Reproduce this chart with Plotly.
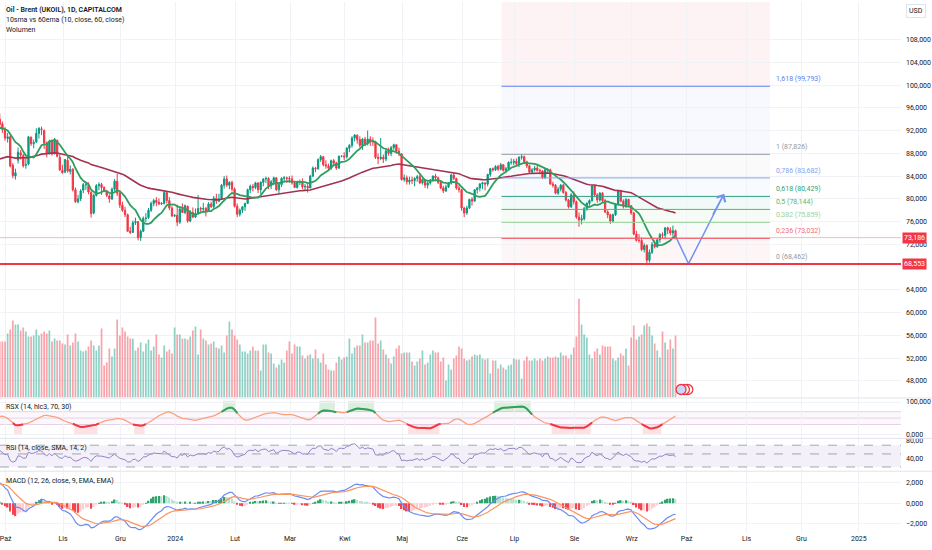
import pandas as pd
import numpy as np
import plotly.graph_objects as go

# UKOIL daily candles (CAPITALCOM), weekdays from 28.09.2023 to 25.09.2024
first_day = "2023-09-28"

opens = [
    94.0, 93.2,
    92.3, 90.6, 90.9, 85.9, 84.0, 86.8, 88.1, 87.6, 85.9, 86.1, 90.8, 89.7, 90.0, 91.5, 92.3, 92.0, 89.8, 88.0, 90.1, 87.9, 90.3, 87.3,
    85.0, 84.7, 86.8, 84.8, 85.2, 81.6, 79.5, 80.0, 81.5, 82.5, 82.4, 81.1, 77.5, 80.6, 82.3, 82.5, 82.0, 81.4, 80.5, 80.0, 81.7, 83.1,
    81.0, 78.9, 78.0, 77.2, 74.3, 74.1, 75.8, 76.0, 73.2, 74.3, 76.6, 76.7, 78.0, 79.2, 79.7, 79.4, 79.1, 79.2, 81.1, 79.7, 78.4,
    77.0, 77.1, 75.9, 78.2, 77.6, 78.7, 76.1, 77.6, 76.8, 77.4, 78.3, 78.2, 78.3, 77.9, 79.1, 78.6, 80.1, 79.6, 80.0, 82.4, 83.5, 82.4, 82.9,
    81.7, 78.7, 77.3, 78.0, 78.6, 79.2, 81.6, 82.2, 82.0, 82.8, 81.6, 82.9, 83.5, 83.6, 82.3, 83.0, 83.7, 81.6, 82.5, 83.6, 83.7,
    83.6, 83.5, 82.8, 82.0, 83.0, 83.0, 82.1, 82.2, 81.9, 84.0, 85.4, 85.3, 86.9, 87.4, 86.0, 85.8, 85.4, 86.7, 86.3, 85.4, 87.5,
    87.5, 87.4, 88.9, 89.4, 90.7, 91.2, 90.4, 89.4, 90.5, 89.7, 90.5, 90.1, 90.0, 87.3, 87.1, 87.3, 87.0, 88.4, 88.0, 89.0, 89.5, 88.4,
    87.9, 83.4, 83.7, 83.0, 83.3, 83.2, 83.6, 83.9, 82.8, 83.4, 82.4, 82.8, 83.3, 84.0, 83.7, 82.9, 81.9, 81.4, 82.1, 82.8, 84.2, 83.6, 81.9,
    81.6, 78.4, 77.5, 78.4, 79.9, 79.6, 81.6, 81.9, 82.6, 82.8, 82.6, 84.3, 85.3, 85.1, 85.7, 85.2, 86.0, 85.0, 85.3, 86.4,
    86.4, 86.6, 86.2, 87.3, 87.4, 86.5, 85.8, 84.7, 85.1, 85.4, 85.0, 84.9, 83.7, 85.1, 85.1, 82.6, 82.4, 81.0, 81.7, 82.4, 81.1, 79.8, 78.6,
    80.7, 79.5, 76.8, 76.3, 76.5, 78.3, 79.2, 79.7, 82.3, 80.7, 79.8, 81.0, 79.7, 77.7, 77.2, 76.1, 77.2, 79.0, 81.4, 79.6, 78.7, 79.9,
    78.8, 77.5, 73.8, 72.7, 72.7, 71.1, 71.8, 69.2, 70.6, 72.0, 71.6, 72.8, 73.7, 73.6, 74.9, 74.5, 74.0, 74.4,
]
highs = [
    95.0, 93.6,
    92.6, 91.6, 91.3, 86.3, 85.3, 89.0, 88.6, 87.9, 87.2, 91.0, 91.0, 90.4, 92.4, 92.6, 92.7, 92.2, 90.1, 90.4, 90.3, 90.7, 90.4, 88.0,
    86.0, 87.0, 87.4, 85.9, 85.4, 82.0, 80.7, 81.7, 82.8, 83.0, 82.9, 81.4, 80.9, 82.6, 82.9, 82.8, 82.2, 81.6, 80.8, 82.0, 83.5, 84.4,
    81.5, 79.5, 78.6, 77.4, 75.1, 76.2, 76.7, 76.1, 74.6, 76.9, 77.5, 78.4, 79.5, 80.0, 80.3, 80.1, 79.4, 81.5, 81.3, 80.3, 78.7,
    77.3, 79.0, 78.5, 79.2, 79.0, 78.8, 78.0, 78.5, 78.3, 80.7, 78.6, 79.3, 78.6, 79.4, 79.5, 80.5, 80.9, 80.9, 82.6, 84.0, 84.1, 83.1, 83.2,
    82.0, 79.2, 78.3, 78.7, 79.3, 81.8, 82.5, 82.6, 83.0, 82.9, 83.1, 83.6, 83.9, 83.8, 83.3, 83.9, 83.8, 82.8, 83.8, 84.0, 83.9,
    84.0, 84.1, 83.2, 83.2, 83.4, 83.6, 82.6, 82.8, 84.2, 85.7, 85.6, 87.1, 87.7, 87.5, 86.8, 86.2, 86.9, 87.0, 86.5, 87.6, 87.6,
    88.2, 89.1, 89.6, 91.0, 91.4, 91.3, 91.0, 90.7, 90.9, 92.0, 91.0, 90.8, 90.2, 88.0, 90.7, 87.8, 88.6, 89.0, 89.3, 89.7, 89.6, 89.0,
    88.0, 84.3, 84.1, 83.9, 83.9, 83.8, 84.2, 84.5, 83.6, 83.5, 83.1, 83.5, 84.1, 84.4, 83.9, 83.3, 82.3, 82.5, 82.9, 84.4, 84.6, 83.7, 82.4,
    81.7, 78.6, 78.8, 80.0, 80.3, 81.7, 82.1, 82.8, 83.0, 82.9, 84.4, 85.4, 85.5, 85.9, 86.0, 86.3, 86.1, 85.6, 86.6, 87.1,
    87.0, 87.1, 87.5, 87.83, 87.6, 86.7, 86.0, 85.4, 85.8, 86.0, 85.3, 85.0, 85.2, 85.4, 85.3, 83.0, 82.6, 82.1, 82.6, 82.6, 81.4, 80.0, 81.0,
    81.3, 79.7, 77.6, 77.2, 78.6, 79.4, 79.9, 82.4, 82.4, 81.0, 81.2, 81.2, 80.0, 78.0, 77.4, 77.4, 79.2, 81.6, 81.6, 79.9, 80.1, 80.0,
    78.9, 77.7, 74.4, 73.8, 73.2, 72.2, 72.0, 71.1, 72.4, 72.7, 73.0, 74.0, 74.1, 75.0, 75.1, 75.0, 75.3, 74.6,
]
lows = [
    92.3, 91.6,
    90.2, 89.9, 85.5, 83.6, 83.4, 86.2, 86.9, 85.5, 85.3, 85.9, 89.3, 88.9, 89.8, 90.6, 91.2, 88.8, 87.3, 87.8, 87.6, 87.8, 87.3, 84.9,
    84.4, 84.5, 84.6, 84.3, 81.3, 79.3, 79.2, 79.6, 81.0, 81.6, 80.8, 76.7, 77.3, 80.4, 81.5, 80.7, 81.2, 80.3, 79.3, 79.8, 81.4, 80.5,
    78.4, 77.7, 76.8, 74.2, 73.8, 74.0, 75.4, 72.7, 72.6, 74.2, 75.9, 76.5, 77.7, 78.7, 78.7, 78.9, 78.9, 79.0, 79.2, 78.0, 76.8,
    76.8, 75.2, 75.6, 77.5, 77.3, 75.8, 75.9, 76.6, 76.6, 77.3, 77.6, 77.6, 76.9, 77.7, 78.4, 78.3, 79.1, 79.4, 79.8, 81.8, 82.1, 81.7, 81.3,
    78.5, 76.8, 76.9, 77.5, 77.9, 79.1, 81.0, 81.3, 81.7, 81.0, 80.9, 82.2, 82.8, 81.7, 81.7, 82.4, 81.4, 80.9, 82.1, 82.9, 82.8,
    82.8, 82.5, 81.9, 81.8, 82.4, 81.7, 81.5, 81.1, 81.9, 83.8, 84.7, 85.1, 86.5, 85.7, 85.3, 84.9, 85.1, 85.8, 85.1, 85.3, 87.3,
    86.8, 87.1, 88.2, 89.0, 90.1, 89.7, 89.0, 88.6, 89.3, 89.4, 89.3, 89.3, 87.0, 86.1, 86.8, 86.3, 86.6, 87.6, 87.5, 88.6, 87.9, 87.5,
    83.2, 83.0, 82.5, 82.5, 82.6, 82.2, 83.0, 82.6, 82.5, 81.9, 81.8, 82.5, 83.0, 83.1, 82.6, 81.7, 81.0, 81.2, 81.9, 82.5, 83.3, 81.6, 81.1,
    77.9, 76.8, 77.2, 78.2, 78.8, 79.5, 80.9, 81.3, 81.7, 81.5, 82.2, 83.9, 84.8, 84.9, 84.9, 85.0, 84.8, 84.5, 85.0, 86.0,
    85.9, 85.9, 85.6, 86.9, 86.2, 85.4, 84.4, 84.4, 84.8, 84.8, 84.3, 83.5, 83.5, 84.4, 82.5, 82.0, 80.8, 80.7, 81.3, 80.9, 79.5, 78.3, 78.4,
    79.0, 76.5, 75.1, 75.5, 76.2, 77.9, 78.8, 79.5, 80.4, 79.3, 79.5, 79.4, 77.5, 76.6, 75.6, 75.9, 77.0, 78.9, 79.4, 78.3, 78.4, 78.6,
    77.2, 73.6, 72.5, 72.3, 70.8, 70.6, 68.46, 68.8, 70.3, 71.3, 71.4, 72.3, 73.0, 72.9, 73.8, 73.6, 73.4, 72.9,
]
closes = [
    93.1, 92.2,
    90.7, 90.9, 85.8, 84.1, 84.6, 88.2, 87.7, 85.8, 86.0, 90.9, 89.7, 89.9, 91.5, 92.4, 92.2, 89.8, 88.1, 90.1, 87.9, 90.5, 87.5, 85.1,
    84.6, 86.9, 84.9, 85.2, 81.6, 79.5, 80.0, 81.4, 82.5, 82.5, 81.2, 77.4, 80.6, 82.3, 82.5, 82.0, 81.4, 80.6, 80.0, 81.7, 83.1, 81.0,
    78.9, 78.0, 77.2, 74.3, 74.1, 75.8, 76.0, 73.2, 74.3, 76.6, 76.6, 78.0, 79.2, 79.7, 79.4, 79.1, 79.2, 81.1, 79.7, 78.4, 77.0,
    77.1, 75.9, 78.2, 77.6, 78.8, 76.1, 77.6, 76.8, 77.4, 78.3, 78.2, 78.3, 77.9, 79.1, 78.6, 80.1, 79.6, 80.0, 82.4, 83.5, 82.4, 82.9, 81.7,
    78.7, 77.3, 78.0, 78.6, 79.2, 81.6, 82.2, 82.0, 82.8, 81.6, 82.9, 83.5, 83.6, 82.3, 83.0, 83.7, 81.6, 82.5, 83.6, 83.7, 83.6,
    83.5, 82.8, 82.0, 83.0, 83.0, 82.1, 82.2, 81.9, 84.0, 85.4, 85.3, 86.9, 87.4, 86.0, 85.8, 85.4, 86.7, 86.3, 85.4, 87.5, 87.5,
    87.4, 88.9, 89.4, 90.7, 91.2, 90.4, 89.4, 90.5, 89.7, 90.5, 90.1, 90.0, 87.3, 87.1, 87.3, 87.0, 88.4, 88.0, 89.0, 89.5, 88.4, 87.9,
    83.4, 83.7, 83.0, 83.3, 83.2, 83.6, 83.9, 82.8, 83.4, 82.4, 82.8, 83.3, 84.0, 83.7, 82.9, 81.9, 81.4, 82.1, 82.8, 84.2, 83.6, 81.9, 81.6,
    78.4, 77.5, 78.4, 79.9, 79.6, 81.6, 81.9, 82.6, 82.8, 82.6, 84.3, 85.3, 85.1, 85.7, 85.2, 86.0, 85.0, 85.3, 86.4, 86.4,
    86.6, 86.2, 87.3, 87.4, 86.5, 85.8, 84.7, 85.1, 85.4, 85.0, 84.9, 83.7, 85.1, 85.1, 82.6, 82.4, 81.0, 81.7, 82.4, 81.1, 79.8, 78.6, 80.7,
    79.5, 76.8, 76.3, 76.5, 78.3, 79.2, 79.7, 82.3, 80.7, 79.8, 81.0, 79.7, 77.7, 77.2, 76.1, 77.2, 79.0, 81.4, 79.6, 78.7, 79.9, 78.8,
    77.5, 73.8, 72.7, 72.7, 71.1, 71.8, 69.2, 70.6, 72.0, 71.6, 72.8, 73.7, 73.6, 74.9, 74.5, 74.0, 74.4, 73.19,
]
volume = [
    56, 56, 56,
    64, 68, 77, 73, 73, 67, 70, 66, 61, 61,
    62, 68, 62, 64, 66, 64, 67, 56, 59, 57,
    57, 54, 53, 63, 52, 55, 64, 56, 47, 46,
    47, 51, 57, 52, 47, 52, 69, 32, 35, 49,
    41, 49, 78, 62, 70, 66, 61, 59, 59, 47,
    50, 55, 46, 54, 58, 47, 51, 63, 43, 40,
    52,
    46, 48, 44, 70, 63, 63, 59, 59, 58, 61,
    67, 71, 43, 68, 59, 57, 53, 54, 56, 50,
    49, 52, 45, 62, 76, 68, 62, 58, 53, 46,
    46, 44, 47, 51, 47, 47, 27, 53, 53, 45,
    44, 34, 30, 33, 38, 35, 47, 56, 44, 53,
    51, 51, 42, 39, 42, 43, 39, 48, 39, 35,
    44,
    33, 28, 27, 27, 35, 41, 38, 40, 41, 59,
    44, 50, 52, 52, 63, 55, 55, 57, 57, 80,
    54, 57, 48, 43, 39, 34, 41, 49, 52, 44,
    45, 45, 45, 36, 32, 36, 39, 47, 33, 35,
    43, 47, 45, 45, 36, 40, 17, 33, 28, 39, 42,
    51, 49, 39,
    37, 38, 41, 43, 42, 43, 39, 38, 39, 24,
    37, 37, 29, 33, 30, 28, 32, 33, 39, 38,
    38,
    19, 37, 41, 37, 37, 39, 37, 39, 37, 39,
    41, 40, 40, 41, 40, 45, 42, 42, 39, 43,
    50, 61, 99, 73, 63, 60, 43, 39, 46, 49,
    43, 52, 51, 51, 51, 39, 37, 40, 44, 42,
    49, 32, 60, 72, 58, 61, 63, 72, 74, 71,
    62, 54, 47, 40, 66, 55, 48, 58, 49, 62,
]

# closes just before the first visible bar (for the 10 sma and rsx warm-up)
warmup_close = [92.4, 92.9, 92.7, 92.0, 91.6, 91.5, 91.4, 92.3, 94.6]
# indicator states just before the first bar, read at the left edge
ema60_seed = 86.8
ema12_seed = 92.6
ema26_seed = 90.5
signal_seed = 1.9
rsi_gain_seed = 0.60
rsi_loss_seed = 0.32

# fibonacci drawing
fib_low = 68.462
fib_high = 87.826
fib_levels = [0, 0.236, 0.382, 0.5, 0.618, 0.786, 1, 1.618, 2.618]
fib_start = "2024-06-24 07:00"
fib_end = "2024-11-14 05:00"

support_price = 68.553
last_price = 73.186

# hand drawn path (blue arrow)
path_dates = ["2024-09-25", "2024-10-02", "2024-10-21 14:00"]
path_prices = [73.45, 68.6, 80.85]

# economic calendar icons under the last bars
event_dates = ["2024-10-01 17:00", "2024-09-30 10:00", "2024-09-27 03:00"]
event_level = 8

month_ticks = ["2023-10-02", "2023-11-01", "2023-12-01", "2024-01-01", "2024-02-01", "2024-03-01",
               "2024-04-01", "2024-05-01", "2024-06-03", "2024-07-01", "2024-08-01", "2024-09-02",
               "2024-10-01", "2024-11-01", "2024-12-02", "2025-01-01"]
month_labels = ["Paź", "Lis", "Gru", "2024", "Lut", "Mar", "Kwi", "Maj", "Cze", "Lip", "Sie", "Wrz",
                "Paź", "Lis", "Gru", "2025"]
# 68 is hidden behind the support price box
price_ticks = [48, 52, 56, 60, 64, 72, 76, 80, 84, 88, 92, 96, 100, 104, 108]

n = len(closes)
assert len(opens) == n and len(highs) == n and len(lows) == n and len(volume) == n, \
    (len(opens), len(highs), len(lows), len(closes), len(volume))
dates = pd.bdate_range(first_day, periods=n)
c = np.array(closes)
o = np.array(opens)
h = np.array(highs)
l = np.array(lows)


def comma(v, d=3):
    return f"{v:.{d}f}".replace(".", ",")


def ema_from(seed, values, span):
    a = 2 / (span + 1)
    e = seed
    out = []
    for v in values:
        e = a * v + (1 - a) * e
        out.append(e)
    return np.array(out)


# 10 sma / 60 ema
sma10 = pd.Series(warmup_close + closes).rolling(10).mean().values[len(warmup_close):]
ema60 = ema_from(ema60_seed, c, 60)

# macd 12 26 9
macd = ema_from(ema12_seed, c, 12) - ema_from(ema26_seed, c, 26)
signal = ema_from(signal_seed, macd, 9)
hist = macd - signal
hist_colors = []
for k in range(n):
    prev = hist[k - 1] if k > 0 else hist[k]
    if hist[k] >= 0:
        hist_colors.append("#2fa36b" if hist[k] >= prev else "#b7e1d3")
    else:
        hist_colors.append("#fdcdd1" if hist[k] >= prev else "#f5434f")

# rsi 14 (wilder)
ag, al = rsi_gain_seed, rsi_loss_seed
prev = warmup_close[-1]
rsi = []
for v in closes:
    d = v - prev
    prev = v
    ag = (ag * 13 + max(d, 0)) / 14
    al = (al * 13 + max(-d, 0)) / 14
    rsi.append(100 - 100 / (1 + ag / al))
rsi = np.array(rsi)


# rsx 14 on hlc3
def rsx_calc(src, length=14):
    f18 = 3 / (length + 2)
    f20 = 1 - f18
    f28 = f30 = f38 = f40 = f48 = f50 = f58 = f60 = f68 = f70 = f78 = f80 = 0.0
    last = None
    out = []
    for x in src:
        x = 100 * x
        v8 = 0 if last is None else x - last
        last = x
        f28 = f20 * f28 + f18 * v8
        f30 = f18 * f28 + f20 * f30
        vc = f28 * 1.5 - f30 * 0.5
        f38 = f20 * f38 + f18 * vc
        f40 = f18 * f38 + f20 * f40
        v10 = f38 * 1.5 - f40 * 0.5
        f48 = f20 * f48 + f18 * v10
        f50 = f18 * f48 + f20 * f50
        v14 = f48 * 1.5 - f50 * 0.5
        f58 = f20 * f58 + f18 * abs(v8)
        f60 = f18 * f58 + f20 * f60
        v18 = f58 * 1.5 - f60 * 0.5
        f68 = f20 * f68 + f18 * v18
        f70 = f18 * f68 + f20 * f70
        v1c = f68 * 1.5 - f70 * 0.5
        f78 = f20 * f78 + f18 * v1c
        f80 = f18 * f78 + f20 * f80
        v20 = f78 * 1.5 - f80 * 0.5
        v4 = (v14 / v20 + 1) * 50 if v20 > 0 else 50
        out.append(min(max(v4, 0), 100))
    return np.array(out)


hlc3 = list(warmup_close) + list((h + l + c) / 3)
rsx = rsx_calc(hlc3)[len(warmup_close):]
hi = pd.Series(rsx > 70)
lo = pd.Series(rsx < 30)
hi_ext = (hi | hi.shift(1, fill_value=False) | hi.shift(-1, fill_value=False)).values
lo_ext = (lo | lo.shift(1, fill_value=False) | lo.shift(-1, fill_value=False)).values


def runs(mask):
    out, start = [], None
    for k, m in enumerate(mask):
        if m and start is None:
            start = k
        if not m and start is not None:
            out.append((start, k - 1))
            start = None
    if start is not None:
        out.append((start, len(mask) - 1))
    return out


UP = "#089981"
DOWN = "#f23645"
GRID = "#f0f2f6"
half_day = pd.Timedelta(hours=12)
day_ms = 86400000

vol_colors = ["rgba(8,153,129,0.45)" if cc >= oo else "rgba(242,54,69,0.45)" for oo, cc in zip(o, c)]

fig = go.Figure()
fig.add_trace(go.Bar(x=dates, y=volume, marker_color=vol_colors, marker_line_width=0,
                     width=0.66 * day_ms, yaxis="y2"))
fig.add_trace(go.Candlestick(x=dates, open=o, high=h, low=l, close=c, yaxis="y",
                             increasing=dict(line=dict(color=UP, width=1), fillcolor=UP),
                             decreasing=dict(line=dict(color=DOWN, width=1), fillcolor=DOWN),
                             whiskerwidth=0))
fig.add_trace(go.Scatter(x=dates, y=ema60, mode="lines", line=dict(color="#a3324f", width=1.6), yaxis="y"))
fig.add_trace(go.Scatter(x=dates, y=sma10, mode="lines", line=dict(color="#2f9e5f", width=1.8), yaxis="y"))
fig.add_trace(go.Scatter(x=path_dates, y=path_prices, mode="lines",
                         line=dict(color="#6f93ef", width=1.5), yaxis="y"))
fig.add_trace(go.Scatter(x=event_dates, y=[event_level] * len(event_dates), mode="markers", yaxis="y2",
                         marker=dict(size=10, color=["white", "white", "#c9d6f7"],
                                     line=dict(color="#f23645", width=1.3))))

# rsx pane
fig.add_trace(go.Scatter(x=dates, y=rsx, mode="lines", line=dict(color="#f9a27c", width=1.3), yaxis="y3"))
fig.add_trace(go.Scatter(x=dates, y=np.where(hi_ext, rsx, np.nan), mode="lines",
                         line=dict(color="#2ba35e", width=2), yaxis="y3"))
fig.add_trace(go.Scatter(x=dates, y=np.where(lo_ext, rsx, np.nan), mode="lines",
                         line=dict(color="#f23645", width=2), yaxis="y3"))

# rsi pane
fig.add_trace(go.Scatter(x=dates, y=rsi, mode="lines", line=dict(color="#9580c8", width=1), yaxis="y4"))

# macd pane
fig.add_trace(go.Bar(x=dates, y=hist, marker_color=hist_colors, marker_line_width=0,
                     width=0.62 * day_ms, yaxis="y5"))
fig.add_trace(go.Scatter(x=dates, y=macd, mode="lines", line=dict(color="#6a8cf3", width=1.2), yaxis="y5"))
fig.add_trace(go.Scatter(x=dates, y=signal, mode="lines", line=dict(color="#fa9560", width=1.2), yaxis="y5"))

shapes = []
# fibonacci fills and lines
fib_line_colors = ["#9598a1", "#f26c78", "#9ad29c", "#5cb85f", "#2f9f80", "#7fa5f0", "#9598a1", "#5c7ff0", "#f23645"]
fib_fill_colors = ["rgba(242,54,69,0.05)", "rgba(129,199,132,0.06)", "rgba(76,175,80,0.05)",
                   "rgba(8,153,129,0.05)", "rgba(100,150,240,0.05)", "rgba(149,152,161,0.05)",
                   "rgba(41,98,255,0.04)", "rgba(242,54,69,0.06)"]
fib_vals = [fib_low + lv * (fib_high - fib_low) for lv in fib_levels]
for k in range(len(fib_levels) - 1):
    shapes.append(dict(type="rect", xref="x", yref="y", x0=fib_start, x1=fib_end,
                       y0=fib_vals[k], y1=fib_vals[k + 1], fillcolor=fib_fill_colors[k],
                       line_width=0, layer="below"))
annotations = []
for k, lv in enumerate(fib_levels[:-1]):
    shapes.append(dict(type="line", xref="x", yref="y", x0=fib_start, x1=fib_end,
                       y0=fib_vals[k], y1=fib_vals[k], line=dict(color=fib_line_colors[k], width=1)))
    annotations.append(dict(x=fib_end, y=fib_vals[k], xref="x", yref="y", xanchor="left", yanchor="bottom",
                            xshift=4, yshift=1, showarrow=False,
                            text=f"{comma(lv, 3).rstrip('0').rstrip(',') if lv else '0'} ({comma(fib_vals[k])})",
                            font=dict(size=7, color=fib_line_colors[k])))

# current price line and support line
shapes.append(dict(type="line", xref="paper", yref="y", x0=0, x1=1, y0=last_price, y1=last_price,
                   line=dict(color="rgba(242,54,69,0.35)", width=1)))
shapes.append(dict(type="line", xref="paper", yref="y", x0=0, x1=1, y0=support_price, y1=support_price,
                   line=dict(color="#f23645", width=2)))

# rsx band, highlights
shapes.append(dict(type="rect", xref="paper", yref="y3", x0=0, x1=1, y0=30, y1=70,
                   fillcolor="rgba(156,39,176,0.04)", line_width=0, layer="below"))
for lvl in (30, 50, 70):
    shapes.append(dict(type="line", xref="paper", yref="y3", x0=0, x1=1, y0=lvl, y1=lvl,
                       line=dict(color="#e6d3e6", width=1), layer="below"))
for s, e in runs(rsx > 70):
    shapes.append(dict(type="rect", xref="x", yref="y3", x0=dates[s] - half_day, x1=dates[e] + half_day,
                       y0=70, y1=104, fillcolor="rgba(76,175,80,0.2)", line_width=0, layer="below"))
for s, e in runs(rsx < 30):
    shapes.append(dict(type="rect", xref="x", yref="y3", x0=dates[s] - half_day, x1=dates[e] + half_day,
                       y0=-0.5, y1=30, fillcolor="rgba(242,54,69,0.15)", line_width=0, layer="below"))

# rsi band
shapes.append(dict(type="rect", xref="paper", yref="y4", x0=0, x1=1, y0=20, y1=70,
                   fillcolor="rgba(126,87,194,0.09)", line_width=0, layer="below"))
for lvl in (20, 50, 70):
    shapes.append(dict(type="line", xref="paper", yref="y4", x0=0, x1=1, y0=lvl, y1=lvl,
                       line=dict(color="#a3a6ae", width=1, dash="dash")))

# pane separators
PH = 533.0
for py in (397.5, 438.0, 471.0):
    shapes.append(dict(type="line", xref="paper", yref="paper", x0=0, x1=932 / 901, y0=1 - py / PH,
                       y1=1 - py / PH, line=dict(color="#e0e3eb", width=1)))

# legend texts
legend_rows = [("Oil - Brent (UKOIL), 1D, CAPITALCOM", 8, 600),
               ("10sma vs 60ema (10, close, 60, close)", 18, 400),
               ("Wolumen", 28, 400),
               ("RSX (14, hlc3, 70, 30)", 406.5, 400),
               ("RSI (14, close, SMA, 14, 2)", 448, 400),
               ("MACD (12, 26, close, 9, EMA, EMA)", 480.5, 400)]
for txt, py, wt in legend_rows:
    annotations.append(dict(x=4 / 901, y=1 - py / PH, xref="paper", yref="paper", xanchor="left",
                            yanchor="middle", showarrow=False, text=txt,
                            font=dict(size=7, color="#131722", weight=wt)))

# price boxes on the axis
for val in (last_price, support_price):
    annotations.append(dict(x=1, y=val, xref="paper", yref="y", xanchor="left", yanchor="middle",
                            xshift=1, showarrow=False, text=comma(val), bgcolor="#f23645",
                            borderpad=1, font=dict(size=7, color="white")))
annotations.append(dict(x=916 / 901, y=1 - 9.5 / PH, xref="paper", yref="paper", xanchor="center",
                        yanchor="middle", showarrow=False, text="USD", bordercolor="#e0e3eb",
                        borderwidth=1, borderpad=2, bgcolor="white", font=dict(size=7, color="#131722")))

# arrow head of the drawn path
annotations.append(dict(x=path_dates[-1], y=path_prices[-1], xref="x", yref="y", ax=-12, ay=22,
                        showarrow=True, arrowhead=4, arrowsize=1.3, arrowwidth=1.5,
                        arrowcolor="#6f93ef", text=""))

axis_common = dict(side="right", anchor="x", zeroline=False, showline=False, ticks="",
                   ticklabelstandoff=4, tickfont=dict(size=7, color="#131722"), fixedrange=True)

fig.update_layout(
    width=932, height=550,
    margin=dict(l=0, r=31, t=0, b=17),
    paper_bgcolor="white", plot_bgcolor="white",
    font=dict(family="Roboto", size=7, color="#131722"),
    showlegend=False,
    shapes=shapes,
    annotations=annotations,
    xaxis=dict(type="date", range=["2023-09-28 02:00", "2025-01-23 10:00"],
               rangebreaks=[dict(bounds=["sat", "mon"])],
               tickmode="array",
               tickvals=[pd.Timestamp(t) + pd.Timedelta(hours=6) for t in month_ticks],
               ticktext=month_labels, ticks="", ticklabeloverflow="allow",
               showgrid=True, gridcolor=GRID, zeroline=False, showline=False,
               anchor="y5", rangeslider=dict(visible=False),
               tickfont=dict(size=7, color="#131722")),
    yaxis=dict(domain=[1 - 397 / PH, 1], range=[45.08, 114.6], tickvals=price_ticks,
               ticktext=[comma(v) for v in price_ticks], showgrid=True, gridcolor=GRID, **axis_common),
    yaxis2=dict(overlaying="y", range=[0, 4 * max(volume)], visible=False, fixedrange=True),
    yaxis3=dict(domain=[1 - 437.5 / PH, 1 - 398 / PH], range=[-11.5, 110.9], tickvals=[0, 100],
                ticktext=["0,000", "100,000"], showgrid=True, gridcolor=GRID, **axis_common),
    yaxis4=dict(domain=[1 - 470.5 / PH, 1 - 438.5 / PH], range=[11.4, 84.6], tickvals=[40, 80],
                ticktext=["40,00", "80,00"], showgrid=False, **axis_common),
    yaxis5=dict(domain=[0, 1 - 471.5 / PH], range=[-2.93, 3.1], tickvals=[-2, 0, 2],
                ticktext=["−2,000", "0,000", "2,000"], showgrid=True, gridcolor=GRID, **axis_common),
)

fig.write_html("out.html", config={"displayModeBar": False},
               post_script="document.body.style.margin='0';document.body.style.overflow='hidden';")
